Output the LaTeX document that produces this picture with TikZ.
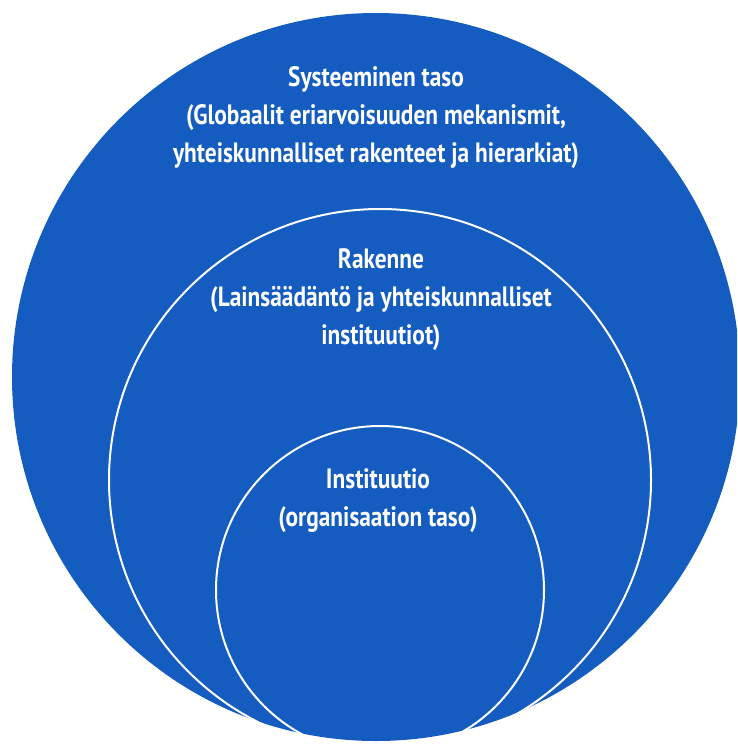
\documentclass[tikz,border=0pt]{standalone}
\usepackage{fontspec}
\setmainfont[FakeStretch=0.835]{PT Sans}
\definecolor{ringblue}{RGB}{20,92,192}
\begin{document}
\begin{tikzpicture}[x=1pt,y=-1pt,
  ring/.style={circle, inner sep=0pt, outer sep=0pt},
  label/.style={text=white, align=center, font=\bfseries\fontsize{28}{38}\selectfont, inner sep=0pt}]
\useasboundingbox (0,0) rectangle (737,744);
\clip (0,0) rectangle (737,744);
\node (outer) [ring, fill=ringblue, minimum size=728pt] at (376,377) {};
\node (middle) [ring, draw=white, line width=2pt, minimum size=542pt] at (380,480) {};
\node (inner) [ring, draw=white, line width=2pt, minimum size=328pt] at (380,590) {};
\node (t1) [label] at (376,118) {Systeeminen taso\\(Globaalit eriarvoisuuden mekanismit,\\yhteiskunnalliset rakenteet ja hierarkiat)};
\node (t2) [label] at (381,300) {Rakenne\\(Lainsäädäntö ja yhteiskunnalliset\\instituutiot)};
\node (t3) [label] at (378,501) {Instituutio\\(organisaation taso)};
\end{tikzpicture}
\end{document}
